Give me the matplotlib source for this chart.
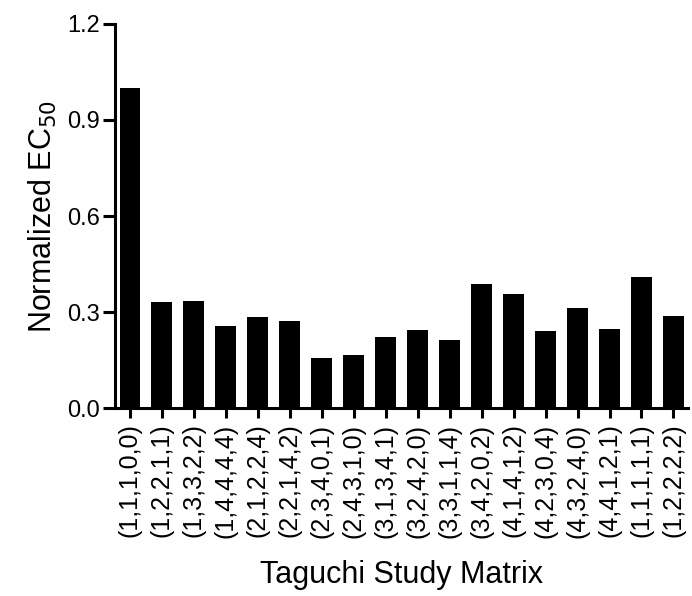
import matplotlib
matplotlib.use('Agg')
import matplotlib.pyplot as plt
import numpy as np

plt.rcParams['font.family'] = ['Liberation Sans', 'DejaVu Sans']

# Taguchi runs and their normalized EC50
runs = ['(1,1,1,0,0)', '(1,2,2,1,1)', '(1,3,3,2,2)', '(1,4,4,4,4)', '(2,1,2,2,4)',
        '(2,2,1,4,2)', '(2,3,4,0,1)', '(2,4,3,1,0)', '(3,1,3,4,1)', '(3,2,4,2,0)',
        '(3,3,1,1,4)', '(3,4,2,0,2)', '(4,1,4,1,2)', '(4,2,3,0,4)', '(4,3,2,4,0)',
        '(4,4,1,2,1)', '(1,1,1,1,1)', '(1,2,2,2,2)']
ec50 = [1.0, 0.331, 0.336, 0.257, 0.286, 0.272, 0.156, 0.165, 0.223, 0.244,
        0.214, 0.387, 0.358, 0.242, 0.314, 0.248, 0.409, 0.287]
yticks = [0.0, 0.3, 0.6, 0.9, 1.2]

fig = plt.figure(figsize=(6.92, 5.96), dpi=100)
ax = fig.add_axes([0.166, 0.315, 0.828, 0.645])

x = np.arange(len(runs))
ax.bar(x, ec50, width=0.65, color='black')

ax.set_xlim(-0.47, len(runs) - 0.55)
ax.set_ylim(0, 1.2)
ax.set_yticks(yticks)
ax.set_yticklabels(['%.1f' % v for v in yticks], fontsize=17)
ax.set_xticks(x)
ax.set_xticklabels(runs, rotation=90, fontsize=18)

for s in ['top', 'right']:
    ax.spines[s].set_visible(False)
for s in ['left', 'bottom']:
    ax.spines[s].set_linewidth(2.2)

ax.tick_params(axis='y', length=8.5, width=2.2, pad=2)
ax.tick_params(axis='x', length=7, width=2.2, pad=4)

ax.set_ylabel('Normalized EC$_{50}$', fontsize=22, labelpad=6)
ax.set_xlabel('Taguchi Study Matrix', fontsize=22, labelpad=16)

fig.savefig('out.png', dpi=100)
